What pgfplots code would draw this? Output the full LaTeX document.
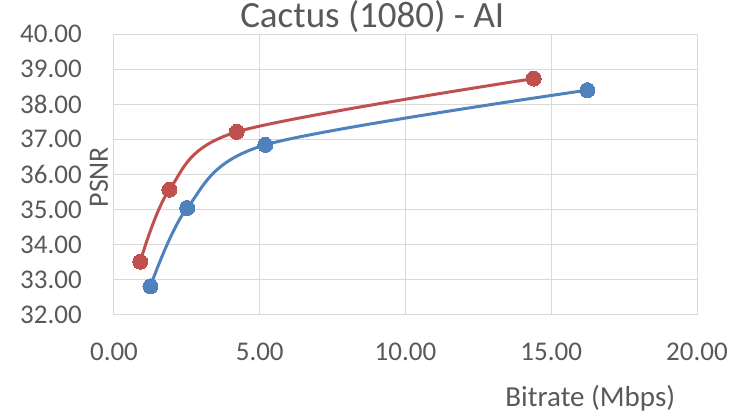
\documentclass[border=0pt]{standalone}
\usepackage{fontspec}
\setmainfont{Carlito}
\usepackage{pgfplots}
\pgfplotsset{compat=1.18}
\definecolor{cred}{HTML}{C0504D}
\definecolor{cblue}{HTML}{4F81BD}
\definecolor{cgrid}{HTML}{D9D9D9}
\definecolor{ctext}{HTML}{595959}
\begin{document}
\begin{tikzpicture}
\begin{axis}[
  scale only axis,
  width=583bp, height=280.6bp,
  xmin=0, xmax=20, ymin=32, ymax=40,
  xtick={0,5,10,15,20}, ytick={32,33,...,40},
  grid=major,
  major grid style={cgrid, line width=1bp},
  axis line style={cgrid, line width=1bp},
  tick style={draw=none},
  /pgf/number format/.cd, fixed, fixed zerofill, precision=2, assume math mode=true,
  /pgfplots/.cd,
  ticklabel style={font=\fontsize{27bp}{32bp}\selectfont, text=ctext, inner sep=0pt},
  xticklabel style={yshift=-28bp},
  yticklabel style={xshift=-32bp},
  title={Cactus (1080) - AI},
  title style={font=\fontsize{37bp}{42bp}\selectfont, text=ctext, inner sep=0pt, at={(axis description cs:0.443,1)}, anchor=base, yshift=1bp},
  xlabel={Bitrate (Mbps)},
  xlabel style={font=\fontsize{29bp}{34bp}\selectfont, text=ctext, inner sep=0pt, at={(axis description cs:0.817,0)}, anchor=base, yshift=-92bp},
  ylabel={PSNR},
  ylabel style={font=\fontsize{28bp}{33bp}\selectfont, text=ctext, inner sep=0pt, at={(axis description cs:0,0.49)}, anchor=base, yshift=6bp},
  clip=false,
]
\addplot[cblue, line width=3bp, smooth, mark=*, mark size=7.5bp, mark options={fill=cblue, draw=cblue, line width=0bp}]
  coordinates {(1.25,32.81) (2.51,35.04) (5.19,36.84) (16.24,38.40)};
\addplot[cred, line width=3bp, smooth, mark=*, mark size=7.5bp, mark options={fill=cred, draw=cred, line width=0bp}]
  coordinates {(0.90,33.51) (1.90,35.56) (4.21,37.21) (14.40,38.73)};
\coordinate (ll) at (rel axis cs:0,0);
\end{axis}
\path ([shift={(-114bp,-101.7bp)}]ll) rectangle ([shift={(621bp,313.3bp)}]ll);
\end{tikzpicture}
\end{document}
